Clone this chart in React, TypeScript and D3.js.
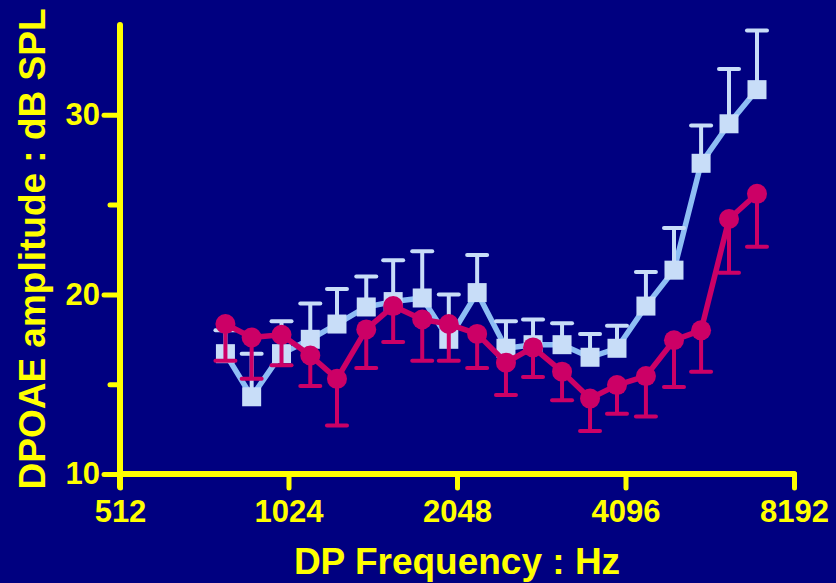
import * as React from "react";
import * as d3 from "d3";

// DP frequencies (Hz), 1/6 octave steps
const freqs = [790, 880, 995, 1120, 1250, 1410, 1575, 1775, 1980, 2225, 2505, 2800, 3155, 3540, 3955, 4455, 5000, 5590, 6270, 7035];

// light blue squares: mean and upper error (SD)
const blueMean = [16.7, 14.3, 16.7, 17.5, 18.35, 19.3, 19.6, 19.8, 17.5, 20.1, 17.0, 17.2, 17.2, 16.5, 17.0, 19.35, 21.35, 27.3, 29.5, 31.4];
const blueErr = [1.3, 2.4, 1.8, 2.0, 1.95, 1.7, 2.3, 2.6, 2.5, 2.1, 1.5, 1.4, 1.2, 1.3, 1.25, 1.9, 2.35, 2.1, 3.05, 3.3];

// magenta circles: mean and lower error (SD)
const redMean = [18.35, 17.6, 17.75, 16.6, 15.3, 18.05, 19.35, 18.6, 18.35, 17.8, 16.2, 17.05, 15.7, 14.2, 14.95, 15.45, 17.45, 18.0, 24.2, 25.6];
const redErr = [2.05, 2.3, 1.7, 1.7, 2.6, 2.15, 2.0, 2.3, 2.05, 1.9, 1.8, 1.65, 1.6, 1.8, 1.6, 2.25, 2.6, 2.3, 3.0, 2.95];

const xTicks = [512, 1024, 2048, 4096, 8192];
const yMajor = [10, 20, 30];
const yMinor = [15, 25];

const W = 836;
const H = 583;
const BG = "#000080";
const YELLOW = "#FFFF00";
const BLUE_LINE = "#8EBEF4";
const BLUE_MARK = "#C8DDF8";
const RED = "#CC0066";
const FONT = '"Liberation Sans", Arial, Helvetica, sans-serif';

export default function App() {
  const svgRef = React.useRef<SVGSVGElement>(null);

  React.useEffect(() => {
    const svgElement = svgRef.current;
    if (!svgElement) return;
    while (svgElement.firstChild) svgElement.removeChild(svgElement.firstChild);

    const svg = d3.select(svgElement);

    const x = d3.scaleLog().base(2).domain([512, 8192]).range([120, 794]);
    const y = d3.scaleLinear().domain([10, 35]).range([474, 25]);

    svg.append("rect").attr("width", W).attr("height", H).attr("fill", BG);

    /* Axes */
    const xAxis = d3
      .axisBottom(x)
      .tickValues(xTicks)
      .tickFormat(d => String(d))
      .tickSize(14)
      .tickSizeOuter(0)
      .tickPadding(12);

    const gx = svg.append("g").attr("transform", `translate(0, ${y(10)})`).call(xAxis);
    gx.select(".domain").remove();
    gx.selectAll(".tick line")
      .attr("stroke", YELLOW)
      .attr("stroke-width", 5)
      .attr("stroke-linecap", "round");
    gx.selectAll(".tick text")
      .attr("fill", YELLOW)
      .attr("font-family", FONT)
      .attr("font-weight", "bold")
      .attr("font-size", 31);

    const yAxis = d3
      .axisLeft(y)
      .tickValues(yMajor)
      .tickFormat(d => String(d))
      .tickSize(16)
      .tickSizeOuter(0)
      .tickPadding(4);

    const gy = svg.append("g").attr("transform", `translate(${x(512)}, 0)`).call(yAxis);
    gy.select(".domain").remove();
    gy.selectAll(".tick line")
      .attr("stroke", YELLOW)
      .attr("stroke-width", 5)
      .attr("stroke-linecap", "round");
    gy.selectAll(".tick text")
      .attr("fill", YELLOW)
      .attr("font-family", FONT)
      .attr("font-weight", "bold")
      .attr("font-size", 31);

    const yAxisMinor = d3.axisLeft(y).tickValues(yMinor).tickFormat(() => "").tickSize(10).tickSizeOuter(0);
    const gym = svg.append("g").attr("transform", `translate(${x(512)}, 0)`).call(yAxisMinor);
    gym.select(".domain").remove();
    gym.selectAll(".tick line")
      .attr("stroke", YELLOW)
      .attr("stroke-width", 5)
      .attr("stroke-linecap", "round");

    // axis lines
    svg.append("line")
      .attr("x1", x(512)).attr("x2", x(512))
      .attr("y1", y(35)).attr("y2", y(10) + 13)
      .attr("stroke", YELLOW).attr("stroke-width", 6).attr("stroke-linecap", "round");
    svg.append("line")
      .attr("x1", x(512)).attr("x2", x(8192))
      .attr("y1", y(10)).attr("y2", y(10))
      .attr("stroke", YELLOW).attr("stroke-width", 6).attr("stroke-linecap", "round");

    // titles
    svg.append("text")
      .attr("x", 457).attr("y", 574)
      .attr("text-anchor", "middle")
      .attr("fill", YELLOW)
      .attr("font-family", FONT).attr("font-weight", "bold").attr("font-size", 37)
      .text("DP Frequency : Hz");
    svg.append("text")
      .attr("transform", `translate(45, 249) rotate(-90)`)
      .attr("text-anchor", "middle")
      .attr("fill", YELLOW)
      .attr("font-family", FONT).attr("font-weight", "bold").attr("font-size", 37)
      .text("DPOAE amplitude : dB SPL");

    /* Series */
    const idx = d3.range(freqs.length);
    const line = d3.line<number>();

    // light blue
    const gb = svg.append("g");
    gb.append("path")
      .attr("d", line(idx.map(i => [x(freqs[i]), y(blueMean[i])])))
      .attr("fill", "none").attr("stroke", BLUE_LINE).attr("stroke-width", 5.5)
      .attr("stroke-linejoin", "round");
    const be = gb.selectAll("g.err").data(idx).enter().append("g");
    be.append("line")
      .attr("x1", i => x(freqs[i])).attr("x2", i => x(freqs[i]))
      .attr("y1", i => y(blueMean[i])).attr("y2", i => y(blueMean[i] + blueErr[i]))
      .attr("stroke", BLUE_MARK).attr("stroke-width", 4);
    be.append("line")
      .attr("x1", i => x(freqs[i]) - 10).attr("x2", i => x(freqs[i]) + 10)
      .attr("y1", i => y(blueMean[i] + blueErr[i])).attr("y2", i => y(blueMean[i] + blueErr[i]))
      .attr("stroke", BLUE_MARK).attr("stroke-width", 4).attr("stroke-linecap", "round");
    gb.selectAll("rect.pt").data(idx).enter().append("rect")
      .attr("x", i => x(freqs[i]) - 9.5).attr("y", i => y(blueMean[i]) - 9.5)
      .attr("width", 19).attr("height", 19)
      .attr("fill", BLUE_MARK);

    // magenta
    const gr = svg.append("g");
    gr.append("path")
      .attr("d", line(idx.map(i => [x(freqs[i]), y(redMean[i])])))
      .attr("fill", "none").attr("stroke", RED).attr("stroke-width", 5.5)
      .attr("stroke-linejoin", "round");
    const re = gr.selectAll("g.err").data(idx).enter().append("g");
    re.append("line")
      .attr("x1", i => x(freqs[i])).attr("x2", i => x(freqs[i]))
      .attr("y1", i => y(redMean[i])).attr("y2", i => y(redMean[i] - redErr[i]))
      .attr("stroke", RED).attr("stroke-width", 4);
    re.append("line")
      .attr("x1", i => x(freqs[i]) - 10).attr("x2", i => x(freqs[i]) + 10)
      .attr("y1", i => y(redMean[i] - redErr[i])).attr("y2", i => y(redMean[i] - redErr[i]))
      .attr("stroke", RED).attr("stroke-width", 4).attr("stroke-linecap", "round");
    gr.selectAll("circle.pt").data(idx).enter().append("circle")
      .attr("cx", i => x(freqs[i])).attr("cy", i => y(redMean[i]))
      .attr("r", 10)
      .attr("fill", RED);

    return () => {
      while (svgElement.firstChild) svgElement.removeChild(svgElement.firstChild);
    };
  }, []);

  return (
    <svg
      ref={svgRef}
      width={W}
      height={H}
      style={{ position: "absolute", left: 0, top: 0, display: "block" }}
    />
  );
}
